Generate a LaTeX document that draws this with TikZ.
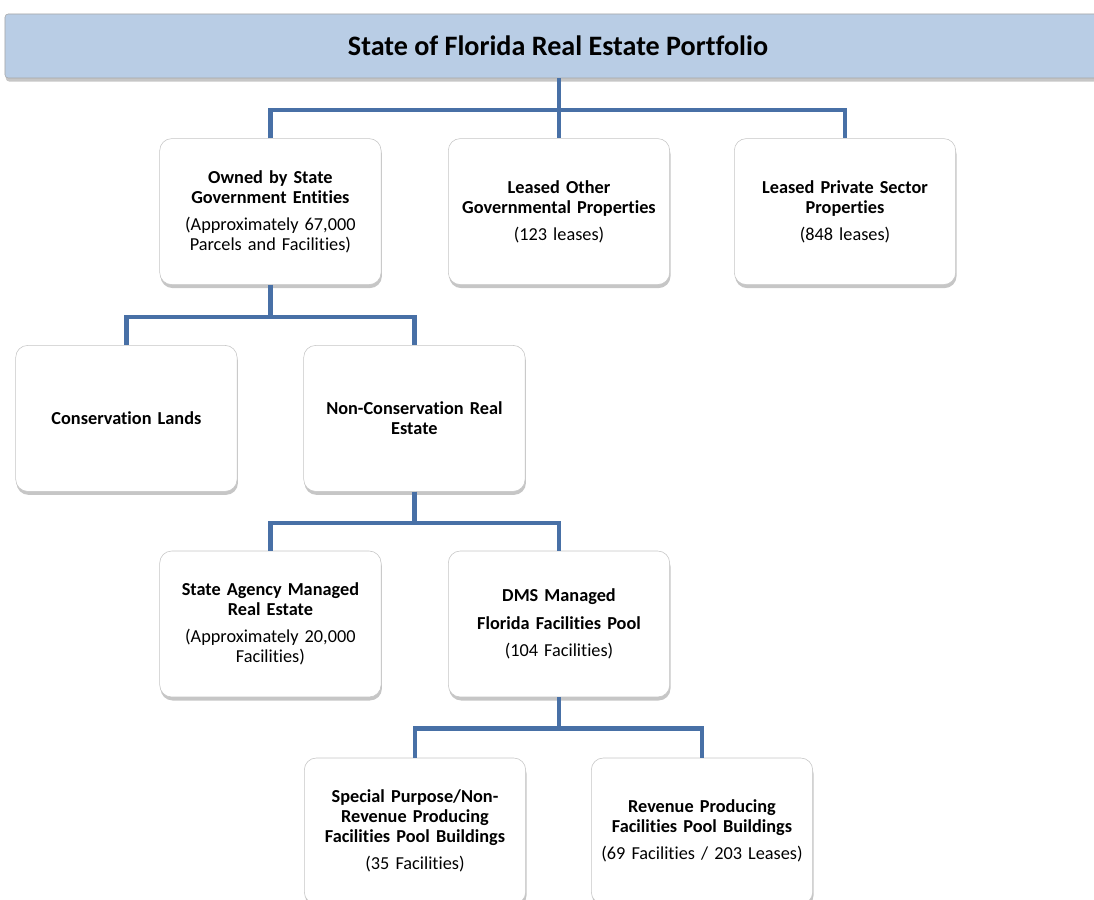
\documentclass[tikz,border=0pt]{standalone}
\usepackage{fontspec}
\setmainfont{Carlito}[Ligatures=NoCommon]
\usetikzlibrary{shadows}
\definecolor{bannerblue}{RGB}{185,205,229}
\definecolor{linkblue}{RGB}{72,112,166}
\tikzstyle{unit}=[draw=gray!45, fill=white, rounded corners=0.3cm, minimum width=5.5cm, minimum height=3.65cm, text width=5.3cm, align=center, font=\fontsize{13}{14.2}\selectfont, drop shadow={shadow xshift=0.6pt, shadow yshift=-2.5pt, opacity=0.45, fill=gray}]
\tikzstyle{banner}=[draw=gray!70, fill=bannerblue, rounded corners=0.08cm, minimum width=27.65cm, minimum height=1.6cm, font=\fontsize{20}{24}\selectfont\bfseries, drop shadow={shadow xshift=0.6pt, shadow yshift=-2.5pt, opacity=0.45, fill=gray}]
\tikzstyle{link}=[linkblue, line width=3pt]

\begin{document}
\begin{tikzpicture}
      \useasboundingbox (0, 0) rectangle (27.35, -22.5);
      \clip (0, 0) rectangle (27.35, -22.5);

      \node[banner] (portfolio) at (13.95, -1.15) {State of Florida Real Estate Portfolio};

      \node[unit] (owned) at (6.76, -5.29) {\textbf{Owned by State\\Government Entities}\\[5pt](Approximately 67,000\\Parcels and Facilities)};
      \node[unit] (other) at (13.975, -5.29) {\textbf{Leased Other\\Governmental Properties}\\[5pt](123 leases)};
      \node[unit] (private) at (21.125, -5.29) {\textbf{Leased Private Sector\\Properties}\\[5pt](848 leases)};

      \node[unit] (conservation) at (3.16, -10.46) {\textbf{Conservation Lands}};
      \node[unit] (nonconservation) at (10.36, -10.46) {\textbf{Non-Conservation Real\\Estate}};

      \node[unit] (agency) at (6.76, -15.6) {\textbf{State Agency Managed\\Real Estate}\\[5pt](Approximately 20,000\\Facilities)};
      \node[unit] (dms) at (13.975, -15.6) {\textbf{DMS Managed}\\[6pt]\textbf{Florida Facilities Pool}\\[5pt](104 Facilities)};

      \node[unit] (special) at (10.375, -20.775) {\textbf{Special Purpose/Non-\\Revenue Producing\\Facilities Pool Buildings}\\[5pt](35 Facilities)};
      \node[unit] (revenue) at (17.55, -20.775) {\textbf{Revenue Producing\\Facilities Pool Buildings}\\[5pt](69 Facilities / 203 Leases)};

      \draw[link] (portfolio.south -| other.north) to (other.north);
      \draw[link] (owned.north) -- ++(0, 0.7) -| (private.north);
      \draw[link] (owned.south) -- ++(0, -0.8) -| (conservation.north);
      \draw[link] (owned.south) -- ++(0, -0.8) -| (nonconservation.north);
      \draw[link] (nonconservation.south) -- ++(0, -0.78) -| (agency.north);
      \draw[link] (nonconservation.south) -- ++(0, -0.78) -| (dms.north);
      \draw[link] (dms.south) -- ++(0, -0.78) -| (special.north);
      \draw[link] (dms.south) -- ++(0, -0.78) -| (revenue.north);
    \end{tikzpicture}
\end{document}
